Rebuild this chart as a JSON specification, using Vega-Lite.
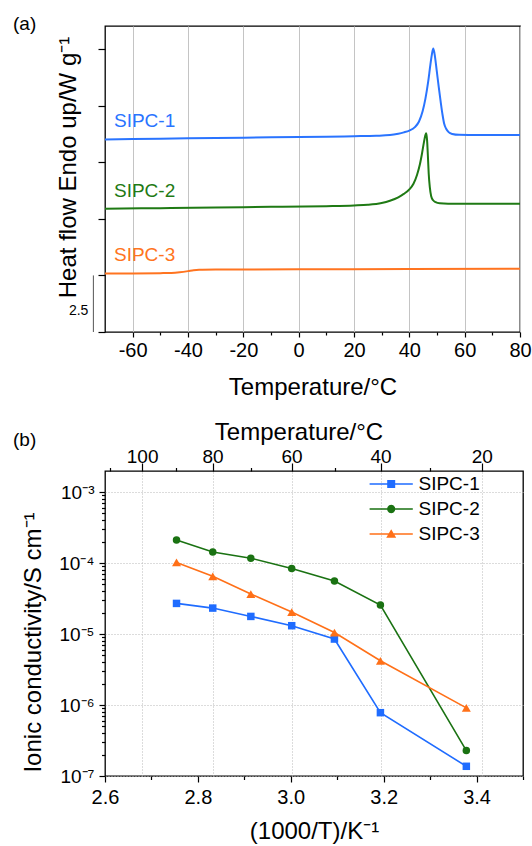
{
  "$schema": "https://vega.github.io/schema/vega-lite/v6.json",
  "padding": {"left": 12, "top": 14, "right": 0, "bottom": 0},
  "spacing": 18,
  "resolve": {"scale": {"color": "independent", "shape": "independent"}, "legend": {"color": "independent", "shape": "independent"}},
  "config": {
    "font": "Liberation Sans",
    "view": {"stroke": "#000", "strokeWidth": 1.3},
    "axis": {"labelFont": "Liberation Sans", "titleFont": "Liberation Sans", "labelFontSize": 20, "titleFontSize": 24, "titleFontWeight": "normal", "labelColor": "#000", "titleColor": "#000", "tickColor": "#000", "tickWidth": 1.2, "domain": false, "grid": false, "labelFlush": false, "labelOverlap": false},
    "title": {"font": "Liberation Sans", "fontSize": 19, "fontWeight": "normal", "anchor": "start", "frame": "group", "color": "#000"}
  },
  "datasets": {
    "dsc": [
      {"series": "SIPC-1", "temp": -70, "hf": 8.51}, {"series": "SIPC-1", "temp": -50, "hf": 8.54}, {"series": "SIPC-1", "temp": -30, "hf": 8.57}, {"series": "SIPC-1", "temp": -10, "hf": 8.6}, {"series": "SIPC-1", "temp": 10, "hf": 8.63}, {"series": "SIPC-1", "temp": 20, "hf": 8.65}, {"series": "SIPC-1", "temp": 28, "hf": 8.67}, {"series": "SIPC-1", "temp": 33, "hf": 8.7}, {"series": "SIPC-1", "temp": 36, "hf": 8.76}, {"series": "SIPC-1", "temp": 38, "hf": 8.82}, {"series": "SIPC-1", "temp": 40, "hf": 8.9}, {"series": "SIPC-1", "temp": 42, "hf": 9.05}, {"series": "SIPC-1", "temp": 43.5, "hf": 9.3}, {"series": "SIPC-1", "temp": 44.8, "hf": 9.75}, {"series": "SIPC-1", "temp": 45.8, "hf": 10.3}, {"series": "SIPC-1", "temp": 46.8, "hf": 11.05}, {"series": "SIPC-1", "temp": 47.6, "hf": 11.8}, {"series": "SIPC-1", "temp": 48.2, "hf": 12.3}, {"series": "SIPC-1", "temp": 48.65, "hf": 12.53}, {"series": "SIPC-1", "temp": 49.1, "hf": 12.3}, {"series": "SIPC-1", "temp": 49.9, "hf": 11.55}, {"series": "SIPC-1", "temp": 50.6, "hf": 10.85}, {"series": "SIPC-1", "temp": 51.3, "hf": 10.2}, {"series": "SIPC-1", "temp": 52, "hf": 9.6}, {"series": "SIPC-1", "temp": 52.6, "hf": 9.2}, {"series": "SIPC-1", "temp": 53.3, "hf": 8.98}, {"series": "SIPC-1", "temp": 54.2, "hf": 8.83}, {"series": "SIPC-1", "temp": 55.5, "hf": 8.75}, {"series": "SIPC-1", "temp": 58, "hf": 8.71}, {"series": "SIPC-1", "temp": 65, "hf": 8.7}, {"series": "SIPC-1", "temp": 80, "hf": 8.7},
      {"series": "SIPC-2", "temp": -70, "hf": 5.45}, {"series": "SIPC-2", "temp": -50, "hf": 5.47}, {"series": "SIPC-2", "temp": -30, "hf": 5.5}, {"series": "SIPC-2", "temp": -10, "hf": 5.53}, {"series": "SIPC-2", "temp": 10, "hf": 5.56}, {"series": "SIPC-2", "temp": 20, "hf": 5.59}, {"series": "SIPC-2", "temp": 25, "hf": 5.62}, {"series": "SIPC-2", "temp": 30, "hf": 5.7}, {"series": "SIPC-2", "temp": 33, "hf": 5.8}, {"series": "SIPC-2", "temp": 36, "hf": 5.95}, {"series": "SIPC-2", "temp": 38, "hf": 6.1}, {"series": "SIPC-2", "temp": 40, "hf": 6.3}, {"series": "SIPC-2", "temp": 41.5, "hf": 6.55}, {"series": "SIPC-2", "temp": 42.8, "hf": 6.95}, {"series": "SIPC-2", "temp": 43.8, "hf": 7.4}, {"series": "SIPC-2", "temp": 44.6, "hf": 7.9}, {"series": "SIPC-2", "temp": 45.3, "hf": 8.4}, {"series": "SIPC-2", "temp": 45.8, "hf": 8.7}, {"series": "SIPC-2", "temp": 46.1, "hf": 8.78}, {"series": "SIPC-2", "temp": 46.4, "hf": 8.5}, {"series": "SIPC-2", "temp": 46.7, "hf": 7.8}, {"series": "SIPC-2", "temp": 47, "hf": 7.0}, {"series": "SIPC-2", "temp": 47.4, "hf": 6.4}, {"series": "SIPC-2", "temp": 47.9, "hf": 6.0}, {"series": "SIPC-2", "temp": 48.6, "hf": 5.82}, {"series": "SIPC-2", "temp": 49.5, "hf": 5.74}, {"series": "SIPC-2", "temp": 51, "hf": 5.69}, {"series": "SIPC-2", "temp": 54, "hf": 5.67}, {"series": "SIPC-2", "temp": 80, "hf": 5.67},
      {"series": "SIPC-3", "temp": -70, "hf": 2.59}, {"series": "SIPC-3", "temp": -60, "hf": 2.59}, {"series": "SIPC-3", "temp": -50, "hf": 2.6}, {"series": "SIPC-3", "temp": -46, "hf": 2.61}, {"series": "SIPC-3", "temp": -43, "hf": 2.64}, {"series": "SIPC-3", "temp": -40, "hf": 2.69}, {"series": "SIPC-3", "temp": -38, "hf": 2.73}, {"series": "SIPC-3", "temp": -36, "hf": 2.75}, {"series": "SIPC-3", "temp": -30, "hf": 2.76}, {"series": "SIPC-3", "temp": 0, "hf": 2.77}, {"series": "SIPC-3", "temp": 40, "hf": 2.78}, {"series": "SIPC-3", "temp": 80, "hf": 2.8}
    ],
    "bar": [{"temp": -74.2, "lo": 0, "hi": 2.5, "label": "2.5"}],
    "cond": [
      {"series": "SIPC-1", "inv": 2.754, "sigma": 2.7e-5}, {"series": "SIPC-1", "inv": 2.832, "sigma": 2.32e-5}, {"series": "SIPC-1", "inv": 2.914, "sigma": 1.77e-5}, {"series": "SIPC-1", "inv": 3.002, "sigma": 1.31e-5}, {"series": "SIPC-1", "inv": 3.094, "sigma": 8.5e-6}, {"series": "SIPC-1", "inv": 3.193, "sigma": 7.8e-7}, {"series": "SIPC-1", "inv": 3.378, "sigma": 1.37e-7},
      {"series": "SIPC-2", "inv": 2.754, "sigma": 2.11e-4}, {"series": "SIPC-2", "inv": 2.832, "sigma": 1.43e-4}, {"series": "SIPC-2", "inv": 2.914, "sigma": 1.17e-4}, {"series": "SIPC-2", "inv": 3.002, "sigma": 8.4e-5}, {"series": "SIPC-2", "inv": 3.094, "sigma": 5.57e-5}, {"series": "SIPC-2", "inv": 3.193, "sigma": 2.56e-5}, {"series": "SIPC-2", "inv": 3.378, "sigma": 2.28e-7},
      {"series": "SIPC-3", "inv": 2.754, "sigma": 1.02e-4}, {"series": "SIPC-3", "inv": 2.832, "sigma": 6.5e-5}, {"series": "SIPC-3", "inv": 2.914, "sigma": 3.66e-5}, {"series": "SIPC-3", "inv": 3.002, "sigma": 2.04e-5}, {"series": "SIPC-3", "inv": 3.094, "sigma": 1.05e-5}, {"series": "SIPC-3", "inv": 3.193, "sigma": 4.2e-6}, {"series": "SIPC-3", "inv": 3.378, "sigma": 9.1e-7}
    ]
  },
  "vconcat": [
    {
      "title": {"text": "(a)", "dx": -92, "offset": -8},
      "width": 415,
      "height": 306,
      "resolve": {"scale": {"x": "independent", "y": "independent"}, "axis": {"x": "independent", "y": "independent"}},
      "layer": [
        {
          "layer": [
            {
              "data": {"name": "dsc"},
              "mark": {"type": "line", "strokeWidth": 2, "interpolate": "monotone"},
              "encoding": {
                "x": {"field": "temp", "type": "quantitative", "scale": {"domain": [-70, 80], "nice": false, "zero": false},
                  "axis": {"orient": "bottom", "values": [-60, -40, -20, 0, 20, 40, 60, 80], "labelExpr": "replace(datum.label, '−', '-')", "tickSize": 5, "labelPadding": 3.5, "grid": true, "gridColor": "#c4c4c4", "gridWidth": 1, "title": "Temperature/°C", "titlePadding": 15}},
                "y": {"field": "hf", "type": "quantitative", "scale": {"domain": [0, 13.52], "nice": false, "zero": false},
                  "axis": {"orient": "left", "values": [0, 2.5, 5, 7.5, 10, 12.5], "labels": false, "tickSize": 7, "title": "Heat flow Endo up/W g⁻¹", "titlePadding": 17, "titleY": 141}},
                "color": {"field": "series", "type": "nominal", "scale": {"domain": ["SIPC-1", "SIPC-2", "SIPC-3"], "range": ["#2a74ff", "#1f7a14", "#ff7420"]}, "legend": null}
              }
            },
            {
              "data": {"name": "dsc"},
              "transform": [{"filter": {"field": "temp", "equal": -70}}],
              "mark": {"type": "text", "align": "left", "baseline": "alphabetic", "dx": 9, "dy": -12, "fontSize": 19},
              "encoding": {
                "x": {"field": "temp", "type": "quantitative", "scale": {"domain": [-70, 80], "nice": false, "zero": false}},
                "y": {"field": "hf", "type": "quantitative", "scale": {"domain": [0, 13.52], "nice": false, "zero": false}},
                "text": {"field": "series"},
                "color": {"field": "series", "type": "nominal", "legend": null}
              }
            },
            {
              "data": {"name": "bar"},
              "mark": {"type": "rule", "color": "#555", "strokeWidth": 1},
              "encoding": {
                "x": {"field": "temp", "type": "quantitative", "scale": {"domain": [-70, 80], "nice": false, "zero": false}},
                "y": {"field": "lo", "type": "quantitative", "scale": {"domain": [0, 13.52], "nice": false, "zero": false}},
                "y2": {"field": "hi"}
              }
            },
            {
              "data": {"name": "bar"},
              "mark": {"type": "text", "align": "right", "baseline": "middle", "dx": -5, "dy": -21.5, "fontSize": 14, "color": "#000"},
              "encoding": {
                "x": {"field": "temp", "type": "quantitative", "scale": {"domain": [-70, 80], "nice": false, "zero": false}},
                "y": {"field": "lo", "type": "quantitative", "scale": {"domain": [0, 13.52], "nice": false, "zero": false}},
                "text": {"field": "label"}
              }
            }
          ]
        },
        {
          "data": {"name": "dsc"},
          "mark": {"type": "point", "opacity": 0},
          "encoding": {
            "x": {"field": "temp", "type": "quantitative", "scale": {"domain": [-70, 80], "nice": false, "zero": false},
              "axis": {"orient": "bottom", "values": [-50, -30, -10, 10, 30, 50, 70], "labels": false, "tickSize": 3, "title": null, "grid": false}},
            "y": {"field": "hf", "type": "quantitative", "scale": {"domain": [0, 13.52], "nice": false, "zero": false}, "axis": null}
          }
        }
      ]
    },
    {
      "title": {"text": "(b)", "dx": -92, "offset": -29.5},
      "width": 418,
      "height": 305,
      "data": {"name": "cond"},
      "resolve": {"scale": {"x": "independent", "y": "independent"}, "axis": {"x": "independent", "y": "independent"}},
      "layer": [
        {
          "encoding": {
            "x": {"field": "inv", "type": "quantitative", "scale": {"domain": [2.6, 3.5], "nice": false, "zero": false},
              "axis": {"orient": "bottom", "values": [2.6, 2.8, 3.0, 3.2, 3.4], "format": ".1f", "tickSize": 6, "labelPadding": 5, "title": "(1000/T)/K⁻¹", "titlePadding": 12}},
            "y": {"field": "sigma", "type": "quantitative", "scale": {"type": "log", "domain": [1e-7, 0.00198], "nice": false},
              "axis": {"orient": "left", "values": [1e-7, 1e-6, 1e-5, 1e-4, 1e-3], "labelExpr": "datum.value == 0.001 ? '10⁻³' : datum.value == 0.0001 ? '10⁻⁴' : datum.value == 0.00001 ? '10⁻⁵' : datum.value == 0.000001 ? '10⁻⁶' : '10⁻⁷'", "labelFontSize": 19, "tickSize": 6, "labelPadding": 5, "grid": true, "gridColor": "#b8b8b8", "gridDash": [1, 2], "gridWidth": 1, "title": "Ionic conductivity/S cm⁻¹", "titlePadding": 13, "titleY": 171}}
          },
          "layer": [
            {"transform": [{"filter": {"field": "series", "equal": "SIPC-1"}}], "mark": {"type": "line", "strokeWidth": 1.6, "color": "#1f6cff", "point": {"shape": "square", "filled": true, "size": 56, "opacity": 1, "color": "#1f6cff"}}},
            {"transform": [{"filter": {"field": "series", "equal": "SIPC-2"}}], "mark": {"type": "line", "strokeWidth": 1.6, "color": "#1a7212", "point": {"shape": "circle", "filled": true, "size": 56, "opacity": 1, "color": "#1a7212"}}},
            {"transform": [{"filter": {"field": "series", "equal": "SIPC-3"}}], "mark": {"type": "line", "strokeWidth": 1.6, "color": "#ff7018", "point": {"shape": "triangle-up", "filled": true, "size": 81, "opacity": 1, "color": "#ff7018"}}},
            {
              "mark": {"type": "point", "filled": true, "opacity": 0},
              "encoding": {
                "color": {"field": "series", "type": "nominal", "scale": {"domain": ["SIPC-1", "SIPC-2", "SIPC-3"], "range": ["#1f6cff", "#1a7212", "#ff7018"]},
                  "legend": {"title": null, "orient": "none", "legendX": 276.7, "legendY": 3.5, "labelFontSize": 19, "labelFont": "Liberation Sans", "labelColor": "#000", "labelOffset": 17.8, "symbolSize": 64, "rowPadding": 5, "symbolOpacity": 1, "symbolStrokeWidth": 0, "padding": 0}},
                "shape": {"field": "series", "type": "nominal", "scale": {"domain": ["SIPC-1", "SIPC-2", "SIPC-3"], "range": ["M-5.4,-0.19H5.4V0.19H-5.4Z M-1,-1H1V1H-1Z", "M-5.4,-0.19H5.4V0.19H-5.4Z M1.05,0L0.91,0.525L0.525,0.91L0,1.05L-0.525,0.91L-0.91,0.525L-1.05,0L-0.91,-0.525L-0.525,-0.91L0,-1.05L0.525,-0.91L0.91,-0.525Z", "M-5.4,-0.19H5.4V0.19H-5.4Z M0,-1.2L1.25,0.95H-1.25Z"]},
                  "legend": {"title": null, "orient": "none", "legendX": 276.7, "legendY": 3.5, "labelFontSize": 19, "labelFont": "Liberation Sans", "labelColor": "#000", "labelOffset": 17.8, "symbolSize": 64, "rowPadding": 5, "symbolOpacity": 1, "symbolStrokeWidth": 0, "padding": 0}}
              }
            }
          ]
        },
        {
          "mark": {"type": "point", "opacity": 0},
          "encoding": {
            "x": {"field": "inv", "type": "quantitative", "scale": {"domain": [2.6, 3.5], "nice": false, "zero": false},
              "axis": {"orient": "top", "values": [2.67989, 2.83166, 3.00165, 3.19336, 3.41122], "labelExpr": "format(1000 / datum.value - 273.15, '.0f')", "labelFontSize": 19, "labelBaseline": "alphabetic", "tickSize": 8, "labelPadding": 1, "grid": true, "gridColor": "#b8b8b8", "gridDash": [1, 2], "gridWidth": 1, "title": "Temperature/°C", "titleBaseline": "alphabetic", "titlePadding": 8, "titleX": 193.5}},
            "y": {"field": "sigma", "type": "quantitative", "scale": {"type": "log", "domain": [1e-7, 0.00198], "nice": false}, "axis": null}
          }
        },
        {
          "mark": {"type": "point", "opacity": 0},
          "encoding": {
            "x": {"field": "inv", "type": "quantitative", "scale": {"domain": [2.6, 3.5], "nice": false, "zero": false},
              "axis": {"orient": "top", "values": [2.60994, 2.75368, 2.91418, 3.09454, 3.2987], "labels": false, "tickSize": 3.5, "title": null}},
            "y": {"field": "sigma", "type": "quantitative", "scale": {"type": "log", "domain": [1e-7, 0.00198], "nice": false}, "axis": null}
          }
        },
        {
          "mark": {"type": "point", "opacity": 0},
          "encoding": {
            "x": {"field": "inv", "type": "quantitative", "scale": {"domain": [2.6, 3.5], "nice": false, "zero": false},
              "axis": {"orient": "bottom", "values": [2.7, 2.9, 3.1, 3.3, 3.5], "labels": false, "tickSize": 3.5, "title": null}},
            "y": {"field": "sigma", "type": "quantitative", "scale": {"type": "log", "domain": [1e-7, 0.00198], "nice": false}, "axis": null}
          }
        },
        {
          "mark": {"type": "point", "opacity": 0},
          "encoding": {
            "x": {"field": "inv", "type": "quantitative", "scale": {"domain": [2.6, 3.5], "nice": false, "zero": false}, "axis": null},
            "y": {"field": "sigma", "type": "quantitative", "scale": {"type": "log", "domain": [1e-7, 0.00198], "nice": false},
              "axis": {"orient": "left", "values": [2e-7, 3e-7, 4e-7, 5e-7, 6e-7, 7e-7, 8e-7, 9e-7, 2e-6, 3e-6, 4e-6, 5e-6, 6e-6, 7e-6, 8e-6, 9e-6, 2e-5, 3e-5, 4e-5, 5e-5, 6e-5, 7e-5, 8e-5, 9e-5, 2e-4, 3e-4, 4e-4, 5e-4, 6e-4, 7e-4, 8e-4, 9e-4], "labels": false, "tickSize": 3.5, "title": null}}
          }
        }
      ]
    }
  ]
}
